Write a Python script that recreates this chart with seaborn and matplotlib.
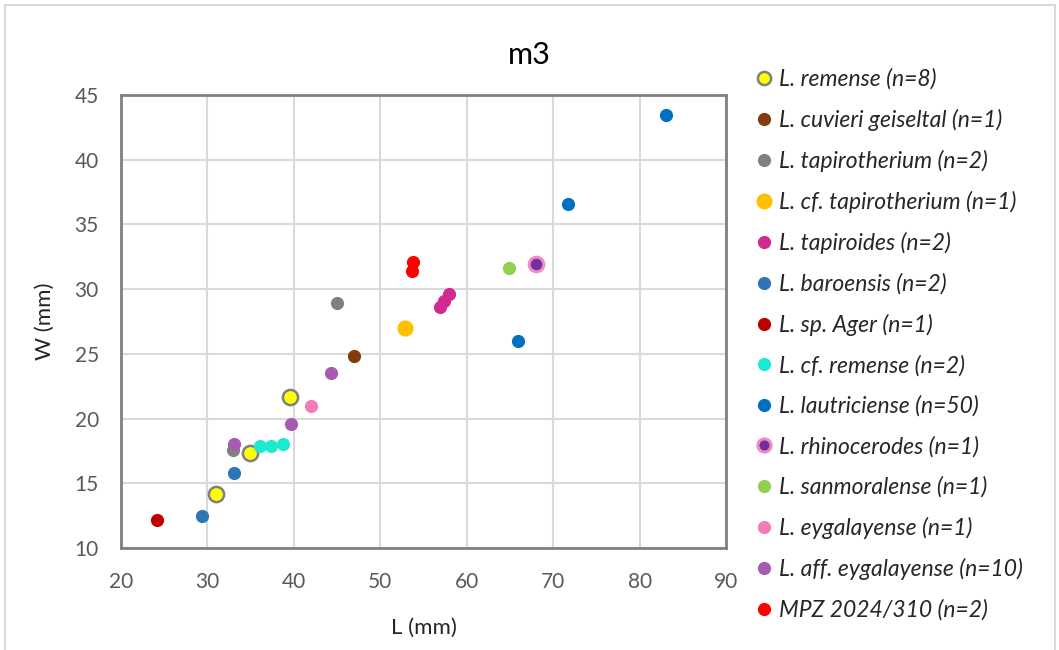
import matplotlib
matplotlib.use('Agg')
import matplotlib.pyplot as plt
import seaborn as sns
import pandas as pd
from matplotlib.lines import Line2D
from matplotlib.patches import Rectangle

# species, L (mm), W (mm)
remense_L = [31.0, 34.9, 39.5]
remense_W = [14.2, 17.35, 21.7]
cuvieri_L = [46.9]
cuvieri_W = [24.85]
tapirotherium_L = [45.0, 33.0]
tapirotherium_W = [28.95, 17.6]
cf_tapirotherium_L = [52.9]
cf_tapirotherium_W = [27.0]
tapiroides_L = [56.9, 57.4, 58.0]
tapiroides_W = [28.6, 29.05, 29.6]
baroensis_L = [29.4, 33.1]
baroensis_W = [12.5, 15.8]
ager_L = [24.2]
ager_W = [12.2]
cf_remense_L = [36.05, 37.4, 38.7]
cf_remense_W = [17.9, 17.9, 18.0]
lautriciense_L = [65.9, 71.7, 83.0]
lautriciense_W = [26.0, 36.6, 43.45]
rhinocerodes_L = [68.0]
rhinocerodes_W = [31.95]
sanmoralense_L = [64.9]
sanmoralense_W = [31.65]
eygalayense_L = [42.0]
eygalayense_W = [21.0]
aff_eygalayense_L = [33.1, 39.7, 44.3]
aff_eygalayense_W = [18.0, 19.6, 23.5]
mpz_L = [53.8, 53.7]
mpz_W = [32.1, 31.4]

# label, L, W, face, edge, size, edge width
series = [
    ('L. remense (n=8)', remense_L, remense_W, '#FFFF00', '#808080', 120, 1.8),
    ('L. cuvieri geiseltal (n=1)', cuvieri_L, cuvieri_W, '#843C0C', '#843C0C', 90, 0),
    ('L. tapirotherium (n=2)', tapirotherium_L, tapirotherium_W, '#808080', '#808080', 90, 0),
    ('L. cf. tapirotherium (n=1)', cf_tapirotherium_L, cf_tapirotherium_W, '#FFC000', '#FFC000', 135, 0),
    ('L. tapiroides (n=2)', tapiroides_L, tapiroides_W, '#D02A8E', '#D02A8E', 90, 0),
    ('L. baroensis (n=2)', baroensis_L, baroensis_W, '#2E75B6', '#2E75B6', 90, 0),
    ('L. sp. Ager (n=1)', ager_L, ager_W, '#C00000', '#C00000', 90, 0),
    ('L. cf. remense (n=2)', cf_remense_L, cf_remense_W, '#1DE9D0', '#1DE9D0', 90, 0),
    ('L. lautriciense (n=50)', lautriciense_L, lautriciense_W, '#0070C0', '#0070C0', 90, 0),
    ('L. rhinocerodes (n=1)', rhinocerodes_L, rhinocerodes_W, '#7030A0', '#F08BC0', 110, 2.2),
    ('L. sanmoralense (n=1)', sanmoralense_L, sanmoralense_W, '#92D050', '#92D050', 90, 0),
    ('L. eygalayense (n=1)', eygalayense_L, eygalayense_W, '#F47CB4', '#F47CB4', 90, 0),
    ('L. aff. eygalayense (n=10)', aff_eygalayense_L, aff_eygalayense_W, '#A65BB1', '#A65BB1', 90, 0),
    ('MPZ 2024/310 (n=2)', mpz_L, mpz_W, '#FF0000', '#FF0000', 90, 0),
]

sns.set_theme(style='white')
plt.rcParams['font.family'] = ['Lato', 'DejaVu Sans']

fig = plt.figure(figsize=(10.59, 6.5), dpi=100)
ax = fig.add_axes([0.1143, 0.1569, 0.5713, 0.6969])

handles = []
for label, L, W, face, edge, size, lw in series:
    df = pd.DataFrame({'L (mm)': L, 'W (mm)': W})
    sns.scatterplot(data=df, x='L (mm)', y='W (mm)', ax=ax, color=face,
                    edgecolor=edge, s=size, linewidth=lw, zorder=3, legend=False)
    ms = 11.5 if label.startswith('L. cf. tapiro') else 9.5
    handles.append(Line2D([], [], marker='o', linestyle='none', markersize=ms,
                          markerfacecolor=face, markeredgecolor=edge,
                          markeredgewidth=lw))

ax.set_xlim(20, 90)
ax.set_ylim(10, 45)
ax.set_xticks(range(20, 91, 10))
ax.set_yticks(range(10, 46, 5))
ax.grid(True, color='#D9D9D9', linewidth=1.5)
ax.set_axisbelow(True)
for sp in ax.spines.values():
    sp.set_color('#808080')
    sp.set_linewidth(2)
ax.tick_params(axis='both', labelsize=15, labelcolor='#595959', length=0)
ax.tick_params(axis='x', pad=17)
ax.tick_params(axis='y', pad=16)
ax.set_xlabel('L (mm)', fontsize=16, color='#262626')
ax.set_ylabel('W (mm)', fontsize=16, color='#262626')
ax.xaxis.set_label_coords(0.5, -0.177)
ax.yaxis.set_label_coords(-0.126, 0.5)
ax.xaxis.label.set_va('center')
ax.yaxis.label.set_va('center')

fig.text(0.5, 0.915, 'm3', ha='center', va='center', fontsize=22, color='#000000')

leg = fig.legend(handles, [s[0] for s in series], loc='upper left',
                 bbox_to_anchor=(0.701, 0.909), frameon=False,
                 prop={'size': 16.5, 'style': 'italic'}, labelspacing=0.83,
                 handletextpad=0.1, handlelength=1.1, borderaxespad=0)
for t in leg.get_texts():
    t.set_color('#262626')

fig.patches.append(Rectangle((5 / 1059, -0.01), 1050 / 1059, 1 - 5 / 650 + 0.01,
                             transform=fig.transFigure, fill=False,
                             edgecolor='#D9D9D9', linewidth=1.5))

fig.savefig('out.png', dpi=100)
